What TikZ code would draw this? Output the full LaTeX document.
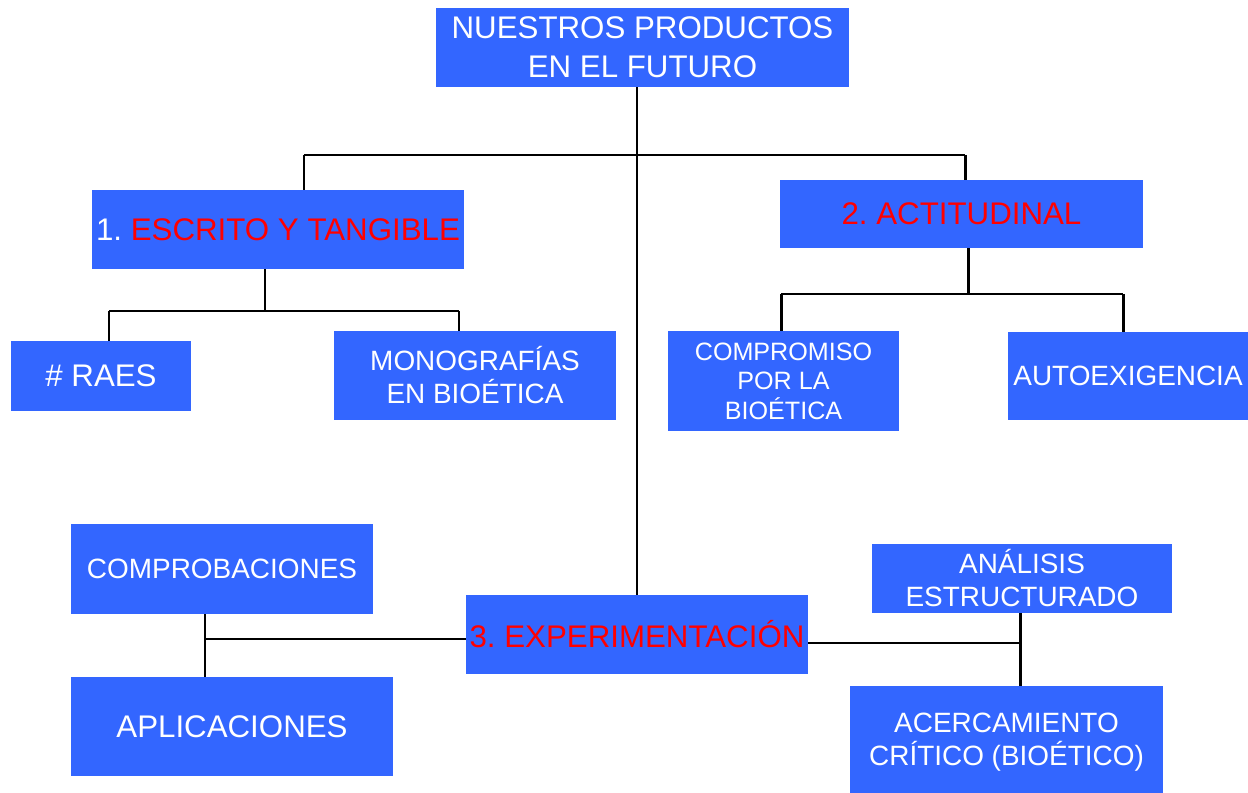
\documentclass[tikz,border=0pt]{standalone}
\usepackage{xcolor}
\usepackage{fontspec}
\setmainfont{Liberation Sans}
\usepackage{tikz}
\usetikzlibrary{positioning}
\frenchspacing
\definecolor{boxblue}{RGB}{51,102,255}
\newcommand{\fHead}{\fontsize{17.8}{22.2}\selectfont}
\newcommand{\fMid}{\fontsize{15.9}{18.8}\selectfont}
\newcommand{\fSmall}{\fontsize{14.3}{16.8}\selectfont}

\begin{document}
\begin{tikzpicture}
  [
    x=0.02cm, y=-0.02cm,
    Blue/.style={rectangle, fill=boxblue, text=white, inner sep=0pt, align=center},
    Head/.style={Blue, font=\fHead},
    Mid/.style={Blue, font=\fMid},
    Small/.style={Blue, font=\fSmall},
    Link/.style={draw, line width=1.7pt}
  ]
  \useasboundingbox (0,0) rectangle (1248,793);
  % Nodes
  \node[Head, minimum width=8.26cm, minimum height=1.58cm] (top) at(642.5, 47.5) {NUESTROS PRODUCTOS\\EN EL FUTURO};
  \node[Head, minimum width=7.44cm, minimum height=1.58cm] (escrito) at(278, 229.5) {1. \textcolor{red}{ESCRITO Y TANGIBLE}};
  \node[Head, minimum width=7.26cm, minimum height=1.36cm] (actitud) at(961.5, 214) {\textcolor{red}{2. ACTITUDINAL}};
  \node[Head, minimum width=3.6cm, minimum height=1.4cm] (raes) at(101, 376) {\# RAES};
  \node[Mid, minimum width=5.64cm, minimum height=1.78cm] (mono) at(475, 375.5) {MONOGRAFÍAS\\EN BIOÉTICA};
  \node[Small, minimum width=4.62cm, minimum height=2cm] (compro) at(783.5, 381) {COMPROMISO\\POR LA\\BIOÉTICA};
  \node[Mid, minimum width=4.8cm, minimum height=1.76cm] (auto) at(1128, 376) {AUTOEXIGENCIA};
  \node[Head, minimum width=6.84cm, minimum height=1.58cm] (exper) at(637, 634.5) {\textcolor{red}{3. EXPERIMENTACIÓN}};
  \node[Mid, minimum width=6.04cm, minimum height=1.8cm] (comprob) at(222, 569) {COMPROBACIONES};
  \node[Head, minimum width=6.44cm, minimum height=1.98cm] (aplic) at(232, 726.5) {APLICACIONES};
  \node[Mid, minimum width=6cm, minimum height=1.38cm] (analisis) at(1022, 578.5) {ANÁLISIS\\ESTRUCTURADO};
  \node[Mid, minimum width=6.26cm, minimum height=2.14cm, text depth=-0.1cm] (acerc) at(1006.5, 739.5) {ACERCAMIENTO\\CRÍTICO (BIOÉTICO)};
  % Junctions
  \coordinate (bar0L) at (304, 155);
  \coordinate (bar0R) at (965, 155);
  \coordinate (d1) at (265, 311);
  \coordinate (bar1L) at (109, 311);
  \coordinate (bar1R) at (459, 311);
  \coordinate (d2) at (968, 294);
  \coordinate (bar2L) at (781, 294);
  \coordinate (bar2R) at (1123, 294);
  \coordinate (d3) at (205, 639);
  \coordinate (d4) at (1020, 643);
  % Lines
  \path [Link] (top.south -| exper.north) -- (exper.north);
  \path [Link] (bar0L) -- (bar0R);
  \path [Link] (bar0L) -- (bar0L |- escrito.north);
  \path [Link] (bar0R) -- (bar0R |- actitud.north);
  \path [Link] (escrito.south -| d1) -- (d1);
  \path [Link] (bar1L) -- (bar1R);
  \path [Link] (bar1L) -- (bar1L |- raes.north);
  \path [Link] (bar1R) -- (bar1R |- mono.north);
  \path [Link] (actitud.south -| d2) -- (d2);
  \path [Link] (bar2L) -- (bar2R);
  \path [Link] (bar2L) -- (bar2L |- compro.north);
  \path [Link] (bar2R) -- (bar2R |- auto.north);
  \path [Link] (exper.west |- d3) -- (d3);
  \path [Link] (comprob.south -| d3) -- (aplic.north -| d3);
  \path [Link] (exper.east |- d4) -- (d4);
  \path [Link] (analisis.south -| d4) -- (acerc.north -| d4);
\end{tikzpicture}
\end{document}
